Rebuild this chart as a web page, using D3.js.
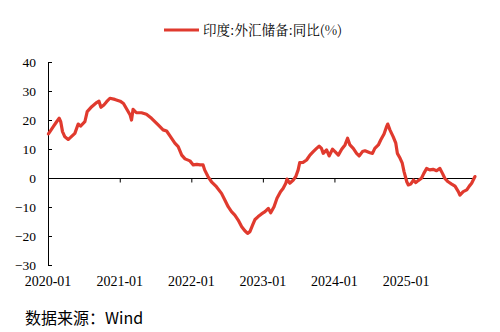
<!DOCTYPE html>
<html>
<head>
<meta charset="utf-8">
<script src="https://cdn.jsdelivr.net/npm/d3@7"></script>
<style>
  html, body { margin: 0; padding: 0; background: #fff; }
  svg { display: block; }
  .serif { font-family: "Liberation Serif", "DejaVu Serif", serif; }
</style>
</head>
<body>
<svg id="chart" width="500" height="332"></svg>
<script>
// 印度外汇储备同比（%），周度
const seriesName = "印度:外汇储备:同比(%)";
const dates = [
  "2020-01-03","2020-01-11","2020-01-28","2020-02-14","2020-02-27","2020-03-06","2020-03-15","2020-03-27",
  "2020-04-13","2020-04-25","2020-05-17","2020-06-03","2020-06-15","2020-07-07","2020-07-19","2020-08-11",
  "2020-09-05","2020-09-17","2020-09-27","2020-10-12","2020-10-26","2020-11-12","2020-12-07","2021-01-03",
  "2021-01-20","2021-02-06","2021-02-23","2021-03-02","2021-03-10","2021-03-27","2021-04-22","2021-05-17",
  "2021-06-12","2021-07-16","2021-08-10","2021-08-28","2021-09-14","2021-10-09","2021-10-26","2021-11-13",
  "2021-11-30","2021-12-25","2022-01-11","2022-01-29","2022-02-15","2022-03-02","2022-03-10","2022-03-27",
  "2022-04-14","2022-05-09","2022-06-04","2022-06-21","2022-07-08","2022-07-25","2022-08-11","2022-08-28",
  "2022-09-15","2022-10-01","2022-10-15","2022-10-27","2022-11-10","2022-11-22","2022-12-08","2022-12-25",
  "2023-01-12","2023-01-29","2023-02-10","2023-02-27","2023-03-14","2023-04-01","2023-04-14","2023-04-28",
  "2023-05-04","2023-05-18","2023-06-04","2023-06-18","2023-06-30","2023-07-08","2023-07-25","2023-08-12",
  "2023-08-29","2023-09-15","2023-10-02","2023-10-15","2023-10-27","2023-11-05","2023-11-22","2023-12-05",
  "2023-12-22","2024-01-04","2024-01-21","2024-02-07","2024-02-24","2024-03-08","2024-03-20","2024-04-06",
  "2024-04-23","2024-05-06","2024-05-23","2024-06-05","2024-06-30","2024-07-13","2024-07-25","2024-08-12",
  "2024-08-24","2024-09-10","2024-09-24","2024-09-29","2024-10-10","2024-10-27","2024-11-09","2024-11-17",
  "2024-12-01","2024-12-12","2024-12-21","2025-01-04","2025-01-12","2025-01-24","2025-02-07","2025-02-19",
  "2025-03-03","2025-03-20","2025-04-01","2025-04-15","2025-05-01","2025-05-18","2025-06-05","2025-06-22",
  "2025-07-05","2025-07-17","2025-08-03","2025-08-21","2025-09-07","2025-09-24","2025-10-02","2025-10-19",
  "2025-11-06","2025-11-19","2025-12-01","2025-12-09","2025-12-18"
];
const values = [
  15.2, 16.0, 17.7, 19.4, 20.6, 19.4, 16.0, 14.2,
  13.3, 14.0, 15.4, 18.6, 17.9, 19.4, 22.9, 24.6,
  26.0, 26.5, 24.4, 25.2, 26.3, 27.5, 27.1, 26.5,
  25.7, 23.7, 21.7, 20.0, 23.7, 22.5, 22.5, 22.0,
  20.6, 18.3, 16.6, 16.2, 14.5, 12.0, 10.8, 7.9,
  6.6, 5.9, 4.5, 4.7, 4.5, 4.5, 2.8, 0.5,
  -1.3, -3.0, -5.3, -7.6, -9.9, -11.6, -12.8, -14.5,
  -16.8, -18.2, -19.1, -18.5, -16.2, -14.3, -13.3, -12.4,
  -11.6, -10.5, -12.0, -9.9, -7.0, -4.7, -3.6, -1.8,
  -0.4, -1.8, -0.8, 0.5, 2.8, 5.3, 5.4, 6.2,
  7.9, 9.1, 10.2, 11.0, 10.2, 8.5, 9.7, 7.6,
  9.9, 9.1, 7.9, 9.9, 11.4, 13.7, 11.4, 10.2,
  8.5, 7.6, 9.1, 9.4, 8.7, 8.5, 10.2, 11.4,
  13.1, 15.2, 17.9, 18.6, 16.6, 14.2, 12.0, 8.5,
  6.8, 5.1, 2.2, -1.3, -2.4, -2.1, -0.7, -1.6,
  -0.9, -0.1, 1.6, 3.3, 2.8, 3.0, 2.5, 3.3,
  1.6, -0.1, -1.3, -2.1, -2.8, -4.7, -5.9, -4.7,
  -4.1, -2.8, -1.8, -0.7, 0.5
];
const yTicks = [-30, -20, -10, 0, 10, 20, 30, 40];
const xTickLabels = ["2020-01", "2021-01", "2022-01", "2023-01", "2024-01", "2025-01"];
const sourceText = "数据来源：Wind";

const parse = d3.timeParse("%Y-%m-%d");
const data = dates.map((d, i) => ({ date: parse(d), value: values[i] }));

const svg = d3.select("#chart");
const plotLeft = 48, plotRight = 475, plotTop = 62, plotBottom = 265;

const x = d3.scaleTime()
  .domain([parse("2020-01-01"), data[data.length - 1].date])
  .range([plotLeft, plotRight]);
const y = d3.scaleLinear().domain([-30, 40]).range([plotBottom, plotTop]);

// y axis on the left, ticks pointing inward
const yAxis = svg.append("g")
  .attr("transform", `translate(${plotLeft},0)`)
  .call(d3.axisRight(y).tickValues(yTicks).tickSize(4).tickFormat(d3.format("d")));
yAxis.attr("font-family", null).attr("font-size", null).attr("class", "serif");
yAxis.select(".domain").attr("d", `M0.5,${plotTop}V${plotBottom}`).attr("stroke", "#000").attr("stroke-width", 1);
yAxis.selectAll(".tick line").attr("stroke", "#000");
yAxis.selectAll(".tick text")
  .attr("x", -12).attr("text-anchor", "end")
  .style("font-size", "13.5px").attr("fill", "#000");

// horizontal axis along zero, labels at the bottom of the plot
const tickDates = xTickLabels.map(s => d3.timeParse("%Y-%m")(s));
const xAxis = svg.append("g")
  .attr("transform", `translate(0,${Math.round(y(0)) + 0.5})`)
  .call(d3.axisBottom(x).tickValues(tickDates).tickSize(4).tickFormat(""));
xAxis.select(".domain").attr("d", `M${plotLeft},0H${plotRight}`).attr("stroke", "#000").attr("stroke-width", 1);
xAxis.selectAll(".tick line").attr("stroke", "#000");

svg.append("g")
  .attr("class", "serif")
  .selectAll("text")
  .data(tickDates)
  .join("text")
  .attr("x", d => x(d))
  .attr("y", 286)
  .attr("text-anchor", "middle")
  .style("font-size", "14px")
  .attr("fill", "#000")
  .text((d, i) => xTickLabels[i]);

// series line
const line = d3.line().x(d => x(d.date)).y(d => y(d.value));
svg.append("path")
  .datum(data)
  .attr("fill", "none")
  .attr("stroke", "#e03a2e")
  .attr("stroke-width", 3.2)
  .attr("stroke-linejoin", "round")
  .attr("stroke-linecap", "round")
  .attr("d", line);

// legend
svg.append("line")
  .attr("x1", 164).attr("x2", 199).attr("y1", 30).attr("y2", 30)
  .attr("stroke", "#e03a2e").attr("stroke-width", 3);
svg.append("text")
  .attr("x", 203).attr("y", 35)
  .style("font-family", "\"Noto Serif CJK SC\", \"Noto Sans CJK SC\", serif")
  .style("font-size", "13.5px")
  .attr("fill", "#000")
  .text(seriesName);

// source note
svg.append("text")
  .attr("x", 25).attr("y", 324)
  .style("font-family", "\"Noto Sans CJK SC\", \"Noto Sans\", sans-serif")
  .style("font-size", "16px")
  .attr("fill", "#000")
  .text(sourceText);
</script>
</body>
</html>
